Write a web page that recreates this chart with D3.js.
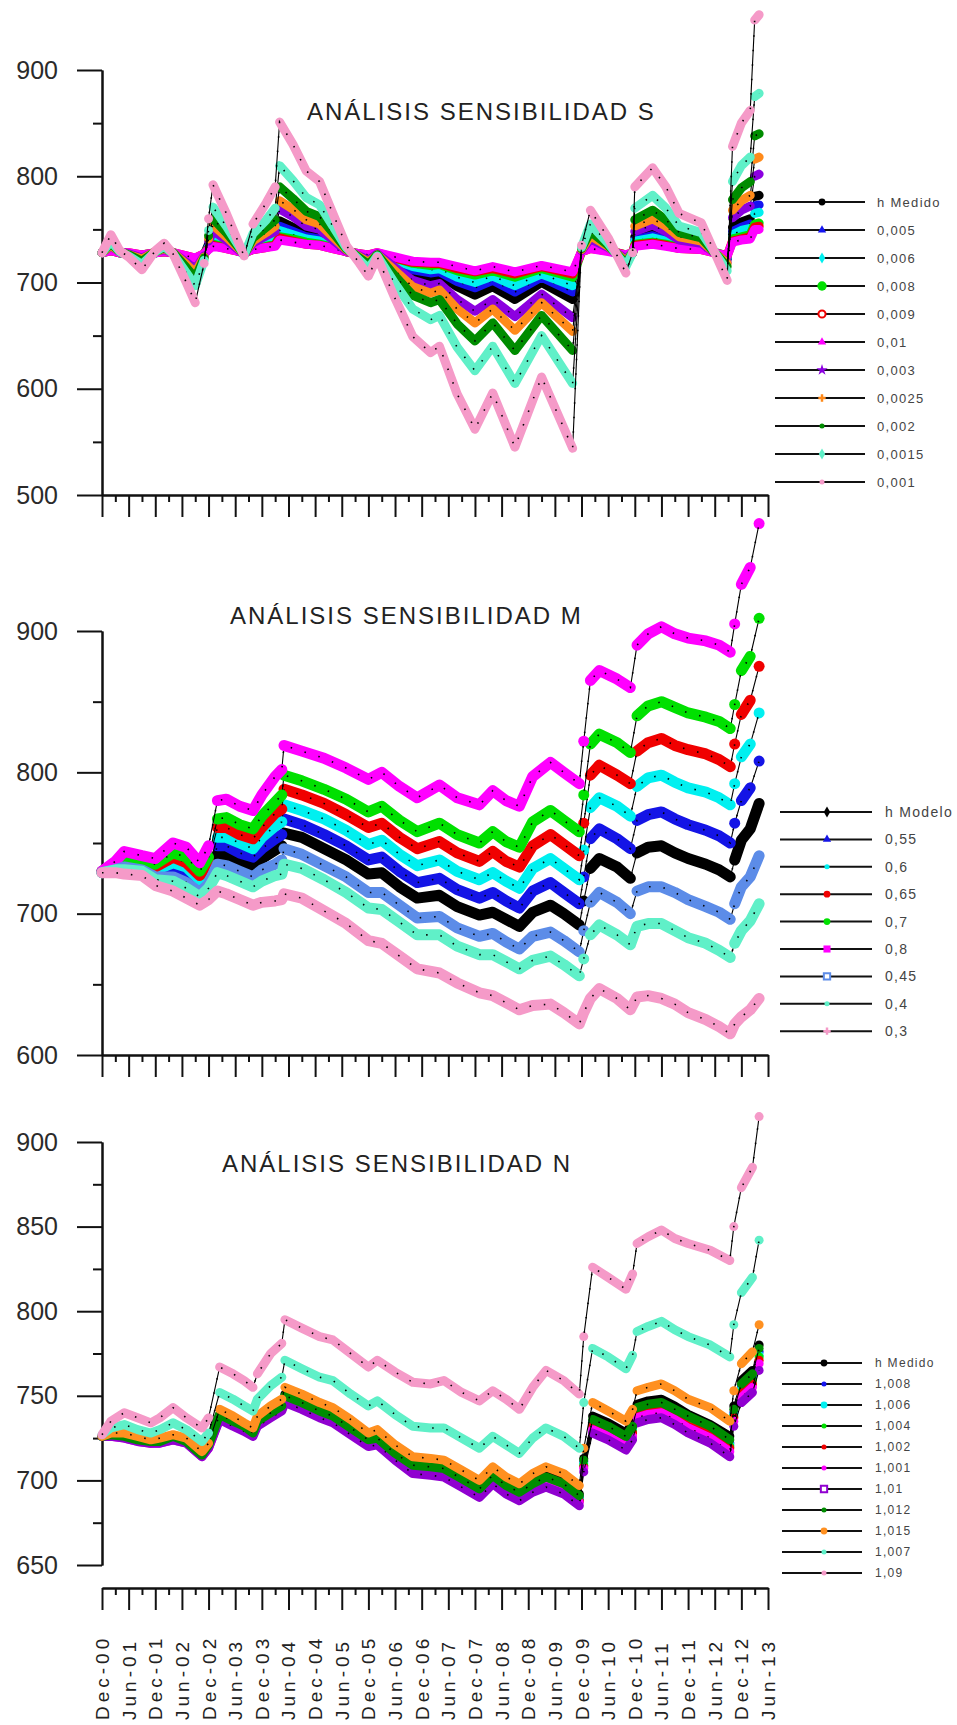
<!DOCTYPE html>
<html>
<head>
<meta charset="utf-8">
<script src="https://cdn.jsdelivr.net/npm/d3@7"></script>
<style>
body { margin: 0; background: #fff; }
svg text { font-family: "Liberation Sans", Arial, sans-serif; }
</style>
</head>
<body>
<div id="chart"></div>
<script>

// months counted from Dec-2000
var xLabels = ["Dec-00","Jun-01","Dec-01","Jun-02","Dec-02","Jun-03","Dec-03","Jun-04","Dec-04","Jun-05","Dec-05","Jun-06","Dec-06",
    "Jun-07","Dec-07","Jun-08","Dec-08","Jun-09","Dec-09","Jun-10","Dec-10","Jun-11","Dec-11","Jun-12","Dec-12","Jun-13"];

// ---- ANALISIS SENSIBILIDAD S
var sMonths = [0,2,4,6,9,12,14,16,19,21,23,24,25,28,31,32,34,37,39,40,43,46,49,52,55,58,60,62,66,70,74,76,80,84,88,93,99,106,108,110,114,118,119.5,120,124,127,130,135,140.8,142,144,146,147,148];
var sLabels = ["h Medido","0,005","0,006","0,008","0,009","0,01","0,003","0,0025","0,002","0,0015","0,001"];
var sMedido = [728,732,728,727,724,728,730,728,721,717,726,736,743,737,730,727,734,739,743,758,752,746,744,737,730,726,723,727,718,709,705,707,696,688,696,684,700,684,730,738,731,723,728,743,747,743,737,735,722,752,757,760,781,782];
var s005 = [728,731,728,727,725,728,730,728,722,719,726,734,741,735,729,727,733,737,740,753,748,743,741,735,729,726,724,727,719,712,709,710,701,695,702,691,705,691,729,736,731,724,728,740,744,740,735,734,723,748,752,755,772,773];
var s006 = [728,731,728,727,725,728,730,728,723,720,726,733,739,734,729,727,733,736,739,749,745,741,739,734,729,726,724,727,721,715,712,713,705,700,706,697,708,697,729,735,730,725,728,739,742,739,734,733,724,745,749,751,765,766];
var s008 = [728,730,728,727,726,728,729,728,724,722,727,732,736,733,729,728,731,734,736,743,741,738,736,733,729,727,725,727,723,718,716,717,711,707,711,705,713,705,729,733,730,726,728,736,738,736,733,732,725,741,743,745,755,756];
var s009 = [728,730,728,728,726,728,729,728,725,723,727,732,735,732,729,728,731,733,735,742,739,736,735,732,729,727,726,728,723,719,718,718,713,710,713,708,715,708,729,732,730,726,728,735,737,735,732,731,725,739,741,743,752,753];
var s01 = [728,730,728,728,726,728,729,728,725,723,727,731,734,732,729,728,731,733,734,740,738,736,735,732,729,727,726,728,724,720,719,719,715,711,715,710,716,710,729,732,729,726,728,734,736,734,732,731,725,738,740,741,750,750];
var s003 = [728,734,729,727,723,729,731,728,719,712,725,739,749,740,730,727,737,744,748,769,762,753,750,740,730,725,721,727,714,702,697,699,684,673,684,668,689,667,730,741,733,722,728,748,754,748,740,737,719,761,768,772,800,802];
var s0025 = [728,735,729,726,722,729,732,728,717,709,724,741,754,743,731,727,739,747,753,777,769,759,755,743,731,724,719,726,711,696,690,693,675,662,675,655,681,654,731,744,734,720,728,753,760,753,743,739,718,768,777,782,816,818];
var s002 = [728,737,729,726,720,729,733,728,714,704,723,744,760,747,732,726,742,752,759,790,779,767,762,747,732,723,717,726,706,688,681,684,661,645,662,636,669,636,732,748,735,718,728,759,768,759,747,742,715,778,789,795,838,840];
var s0015 = [728,739,729,725,717,729,734,727,709,697,721,749,771,753,733,726,746,759,770,810,796,780,773,753,733,721,713,725,699,675,665,669,639,617,640,605,650,605,733,755,737,715,728,770,782,770,753,747,711,795,810,818,875,878];
var s001 = [728,745,730,724,712,730,737,727,700,681,718,760,792,765,735,725,755,775,790,851,830,805,795,765,735,718,706,724,685,649,634,640,595,562,596,545,611,544,735,768,742,709,728,790,808,790,765,756,702,828,850,862,947,952];

// ---- ANALISIS SENSIBILIDAD M
var mMonths = [0,3,5,9,12,16,19,22,24,26,28,31,34,36,39,40.5,41,45,50,55,60,63,67,71,76,80,85,88,91,94,97,101,104,107.5,108.5,110,112,116,119,120.5,123,126,129,132,136,139,141.5,142.5,144,146,148];
var mLabels = ["h Modelo","0,55","0,6","0,65","0,7","0,8","0,45","0,4","0,3"];
var mModelo = [729,732,735,733,728,730,726,718,726,742,741,737,733,739,745,748,757,754,746,738,728,729,719,711,713,705,699,701,696,691,701,706,700,692,709,732,739,733,725,743,747,748,743,739,735,731,726,738,752,760,778];
var m055 = [730,733,736,734,730,733,729,721,729,748,748,743,740,746,753,756,767,763,756,748,738,740,730,722,725,717,711,715,709,704,716,722,715,707,726,753,760,753,746,766,770,772,767,763,759,755,750,764,780,789,808];
var m06 = [730,734,738,735,731,736,733,724,733,754,754,750,746,754,762,765,777,773,767,759,749,752,742,734,738,730,724,729,723,718,732,739,732,724,745,775,782,776,769,790,796,798,793,789,786,782,777,792,811,820,842];
var m065 = [730,735,739,737,733,740,736,727,737,761,761,756,753,761,771,774,788,784,778,770,761,764,754,746,751,743,737,744,737,733,748,756,749,741,764,798,805,798,792,815,821,824,819,816,813,809,804,820,841,851,875];
var m07 = [730,735,741,738,735,743,740,730,740,767,768,763,760,769,779,784,798,794,788,781,772,776,766,758,764,756,750,758,751,747,765,773,766,758,784,820,827,821,814,840,847,850,846,842,839,836,831,848,872,882,909];
var m08 = [730,737,744,741,739,750,747,736,748,780,781,776,773,784,797,802,819,815,810,803,795,800,790,782,791,782,777,787,780,776,797,807,800,792,822,865,872,866,860,890,898,903,898,895,893,890,885,905,933,945,976];
var m045 = [729,731,733,731,726,726,722,715,721,735,734,730,726,731,735,738,746,742,734,726,715,715,706,697,698,690,684,686,680,675,684,687,681,673,688,708,715,708,700,716,719,719,715,710,705,701,696,707,719,726,741];
var m04 = [729,731,731,730,724,723,718,712,718,729,727,723,719,723,727,728,735,732,724,715,704,703,694,685,685,677,671,671,666,661,667,670,664,656,668,685,692,685,678,691,693,693,688,683,679,674,669,679,688,695,707];
var m03 = [729,729,728,727,720,716,711,706,710,716,714,710,706,708,709,710,714,711,702,693,681,679,670,661,658,651,644,642,637,632,635,636,630,622,630,640,647,640,632,641,642,640,636,630,625,620,615,622,627,632,640];

// ---- ANALISIS SENSIBILIDAD N
var nMonths = [0,2,5,8,11,13,16,19,22.5,24,26.5,29.5,32,34,35,38,40.5,41.2,45,49,52,56,60,62,66,70,74,77,81,85,88,91,94,97,100,104,107.5,108.5,110.5,114,118,119.5,120.5,123,126,129,132,137,141.4,142.3,144,146.5,148];
var nLabels = ["h Medido","1,008","1,006","1,004","1,002","1,001","1,01","1,012","1,015","1,007","1,09"];
var nMedido = [726,727,727,724,723,724,726,724,716,721,739,735,732,729,735,741,745,751,747,742,739,732,725,726,717,709,708,708,702,696,704,698,693,699,703,699,692,713,738,734,728,734,745,747,748,744,739,733,726,744,759,765,780];
var n1008 = [726,727,726,724,723,723,725,723,715,720,738,734,731,728,734,740,744,749,745,740,737,730,723,725,716,708,707,706,700,694,702,696,692,697,701,697,690,711,735,731,725,731,741,744,745,741,736,730,722,740,755,761,776];
var n1006 = [726,727,726,724,723,723,725,723,715,720,738,734,731,728,734,739,743,749,745,740,737,730,723,724,715,707,706,705,699,693,701,695,691,697,700,696,689,710,734,730,724,730,740,742,744,740,735,729,721,739,754,760,774];
var n1004 = [726,726,726,724,723,723,725,723,715,720,738,734,731,727,734,739,743,748,744,739,736,729,722,724,715,707,706,705,699,693,701,695,691,696,699,695,688,709,733,729,723,729,739,741,743,739,734,728,720,738,752,759,773];
var n1002 = [726,726,726,724,722,723,725,723,715,720,737,733,730,727,733,739,743,748,744,739,736,729,722,723,714,706,705,704,698,692,700,694,690,695,699,695,688,708,732,728,722,728,738,740,741,737,732,727,719,737,751,757,771];
var n1001 = [726,726,725,723,722,722,724,722,714,719,737,733,730,727,733,738,742,747,743,738,735,728,721,722,713,705,704,703,697,691,699,693,689,695,698,694,687,707,730,726,720,726,737,739,740,736,731,725,717,735,749,755,769];
var n101 = [726,726,725,723,722,722,724,722,714,719,736,732,729,726,732,737,741,746,742,737,734,727,720,721,712,704,703,702,696,690,698,692,688,693,696,692,685,705,728,724,718,724,734,736,737,733,728,722,714,732,746,752,765];
var n1012 = [726,727,726,724,723,723,726,723,715,721,739,735,732,728,735,740,744,750,746,741,738,731,724,725,716,709,708,707,701,695,703,697,693,698,702,698,691,712,736,732,726,732,743,745,746,742,738,732,724,742,757,763,778];
var n1015 = [726,728,728,726,724,725,727,725,717,722,742,738,734,731,738,744,748,755,751,746,743,736,728,730,721,714,713,712,706,700,708,702,698,704,708,704,697,719,746,741,735,742,753,755,757,753,748,743,735,753,769,776,792];
var n1007 = [727,731,733,730,728,730,734,730,723,728,752,748,744,741,748,756,761,771,766,761,759,751,744,747,739,732,731,731,725,719,726,721,716,725,731,726,719,746,778,773,766,774,788,791,794,789,785,780,773,792,811,820,842];
var n109 = [727,735,740,737,734,737,743,737,731,737,767,763,759,755,763,775,781,795,790,785,783,775,767,771,764,758,757,759,752,747,753,748,742,755,765,759,751,785,826,820,813,822,840,844,848,843,840,836,830,850,873,885,915];

// y axis ticks per panel
var sTicks = [500,600,700,800,900];
var sMinor = [550,650,750,850];
var mTicks = [600,700,800,900];
var mMinor = [650,750,850];
var nTicks = [650,700,750,800,850,900];
var nMinor = [675,725,775,825,875];

var sColors = ["#000000","#1414f0","#00f0f0","#00e000","#f00000","#ff00ff","#8c00e0","#ff8a1a","#008c00","#60f0c8","#f59ac8"];
var mColors = ["#000000","#1414e6","#00f0f0","#f00000","#00e000","#ff00ff","#5c8ce8","#60f0c8","#f59ac8"];
var nColors = ["#000000","#1414f0","#00f0f0","#00e000","#f00000","#ff00ff","#9000d0","#008c00","#ff9020","#60f0c8","#f59ac8"];

var width = 957;
var height = 1725;
var font = "'Liberation Sans', Arial, sans-serif";

var svg = d3.select("#chart")
    .append("svg")
    .attr("width", width)
    .attr("height", height);

var x = d3.scaleLinear().domain([0, 150]).range([102, 768]);

var panels = [
    { months: sMonths, series: [sMedido, s005, s006, s008, s009, s01, s003, s0025, s002, s0015, s001],
      labels: sLabels, colors: sColors, ticks: sTicks, minor: sMinor,
      yDomain: [500, 900], yRange: [495, 70], axisY: 495, band: 9,
      title: "ANÁLISIS SENSIBILIDAD S", titleX: 307, titleY: 120,
      leg: { x1: 775, x2: 865, mx: 822, tx: 877, y0: 202, dy: 28, fs: 13 },
      symbols: ["circle","triangle","diamond","bigcircle","ring","triangle","star","cross","small","diamond","small"] },
    { months: mMonths, series: [mModelo, m055, m06, m065, m07, m08, m045, m04, m03],
      labels: mLabels, colors: mColors, ticks: mTicks, minor: mMinor,
      yDomain: [600, 900], yRange: [1055, 631], axisY: 1055, band: 11,
      title: "ANÁLISIS SENSIBILIDAD M", titleX: 230, titleY: 624,
      leg: { x1: 780, x2: 872, mx: 827, tx: 885, y0: 812, dy: 27.4, fs: 14 },
      symbols: ["diamond","triangle","small","circle","circle","square","opensquare","small","cross"] },
    { months: nMonths, series: [nMedido, n1008, n1006, n1004, n1002, n1001, n101, n1012, n1015, n1007, n109],
      labels: nLabels, colors: nColors, ticks: nTicks, minor: nMinor,
      yDomain: [650, 900], yRange: [1565, 1142], axisY: 1588, band: 9,
      title: "ANÁLISIS SENSIBILIDAD N", titleX: 222, titleY: 1172,
      leg: { x1: 782, x2: 862, mx: 824, tx: 875, y0: 1363, dy: 21, fs: 12 },
      symbols: ["circle","small","circle","small","small","small","opensquare","small","circle","small","small"] }
];

function styleAxis(g, fontSize) {
    g.attr("font-family", font).attr("font-size", fontSize);
    g.select(".domain").attr("stroke", "#111").attr("stroke-width", 2);
    g.selectAll(".tick line").attr("stroke", "#111").attr("stroke-width", 2);
    g.selectAll(".tick text").attr("fill", "#2a2a2a");
}

function drawSeries(g, months, values, color, y, band) {
    var n = Math.min(months.length, values.length);
    var pts = [];
    for (var i = 0; i < n; i++) pts.push([x(months[i]), y(values[i])]);

    // thin black connecting line (visible on the jumps)
    g.append("path")
        .attr("d", d3.line()(pts))
        .attr("fill", "none")
        .attr("stroke", "#000")
        .attr("stroke-width", 1.1);

    // coloured band, broken where the curve jumps
    var runs = [[pts[0]]];
    for (var j = 1; j < pts.length; j++) {
        var dx = pts[j][0] - pts[j-1][0];
        var dy = Math.abs(pts[j][1] - pts[j-1][1]);
        if (dy > 10 && dy > 3 * dx) runs.push([pts[j]]);
        else runs[runs.length-1].push(pts[j]);
    }
    runs.forEach(function(r) {
        if (r.length == 1) {
            g.append("circle").attr("cx", r[0][0]).attr("cy", r[0][1]).attr("r", band / 2).attr("fill", color);
        } else {
            g.append("path")
                .attr("d", d3.line()(r))
                .attr("fill", "none")
                .attr("stroke", color)
                .attr("stroke-width", band)
                .attr("stroke-linecap", "round")
                .attr("stroke-linejoin", "round");
        }
    });

    // black marker centres
    g.append("path")
        .attr("d", d3.line()(pts))
        .attr("fill", "none")
        .attr("stroke", "#000")
        .attr("stroke-width", 1.6)
        .attr("stroke-dasharray", "1.5,13");
}

function drawMarker(g, kind, cx, cy, color) {
    var types = { circle: [d3.symbolCircle, 36], bigcircle: [d3.symbolCircle, 70], small: [d3.symbolCircle, 20],
        triangle: [d3.symbolTriangle, 30], diamond: [d3.symbolDiamond, 36], star: [d3.symbolStar, 40],
        cross: [d3.symbolCross, 30], square: [d3.symbolSquare, 50], ring: [d3.symbolCircle, 40], opensquare: [d3.symbolSquare, 40] };
    var t = types[kind];
    var m = g.append("path")
        .attr("d", d3.symbol().type(t[0]).size(t[1])())
        .attr("transform", "translate(" + cx + "," + cy + ")");
    if (kind == "ring" || kind == "opensquare") {
        m.attr("fill", "#fff").attr("stroke", color).attr("stroke-width", 2);
    } else {
        m.attr("fill", color);
    }
}

panels.forEach(function(p) {

    var y = d3.scaleLinear().domain(p.yDomain).range(p.yRange);
    var g = svg.append("g");

    // y axis
    var yAxis = g.append("g")
        .attr("transform", "translate(102,0)")
        .call(d3.axisLeft(y).tickValues(p.ticks).tickSize(25).tickPadding(19).tickSizeOuter(0).tickFormat(d3.format("d")));
    styleAxis(yAxis, 25);
    var yMinor = g.append("g")
        .attr("transform", "translate(102,0)")
        .call(d3.axisLeft(y).tickValues(p.minor).tickSize(9).tickSizeOuter(0).tickFormat(""));
    styleAxis(yMinor, 25);

    // x axis, long ticks every six months, short ones between
    var xMajor = g.append("g")
        .attr("transform", "translate(0," + p.axisY + ")")
        .call(d3.axisBottom(x).tickValues(d3.range(0, 151, 6)).tickSize(22).tickSizeOuter(0).tickFormat(""));
    styleAxis(xMajor, 12);
    var xMinor = g.append("g")
        .attr("transform", "translate(0," + p.axisY + ")")
        .call(d3.axisBottom(x).tickValues(d3.range(3, 150, 6)).tickSize(7).tickSizeOuter(0).tickFormat(""));
    styleAxis(xMinor, 12);

    // title
    g.append("text")
        .attr("x", p.titleX)
        .attr("y", p.titleY)
        .attr("font-size", 24)
        .attr("letter-spacing", 2)
        .attr("fill", "#222")
        .text(p.title);

    // series in legend order
    var lines = g.append("g");
    p.series.forEach(function(vals, i) {
        drawSeries(lines, p.months, vals, p.colors[i], y, p.band);
    });

    // legend
    var leg = g.append("g");
    p.labels.forEach(function(lab, i) {
        var ly = p.leg.y0 + i * p.leg.dy;
        leg.append("line")
            .attr("x1", p.leg.x1).attr("x2", p.leg.x2)
            .attr("y1", ly).attr("y2", ly)
            .attr("stroke", "#111").attr("stroke-width", 2);
        drawMarker(leg, p.symbols[i], p.leg.mx, ly, p.colors[i]);
        leg.append("text")
            .attr("x", p.leg.tx)
            .attr("y", ly)
            .attr("dy", "0.35em")
            .attr("font-size", p.leg.fs)
            .attr("letter-spacing", 1.3)
            .attr("fill", "#444")
            .text(lab);
    });
});

// date labels under the last axis
svg.append("g")
    .selectAll("text")
    .data(xLabels)
    .enter()
    .append("text")
        .attr("transform", function(d, i) { return "translate(" + (x(i * 6) + 7) + ",1720) rotate(-90)"; })
        .attr("font-size", 19)
        .attr("letter-spacing", 4)
        .attr("fill", "#222")
        .text(function(d) { return d; });

</script>
</body>
</html>
